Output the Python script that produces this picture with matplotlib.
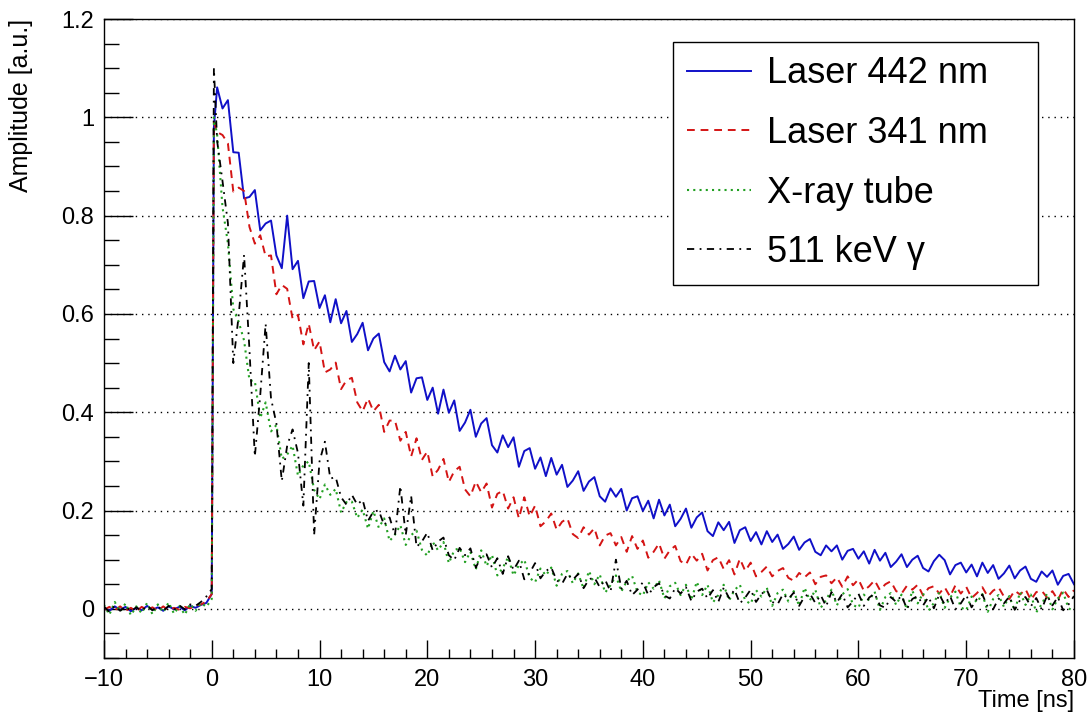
import numpy as np
import matplotlib
matplotlib.use('Agg')
import matplotlib.pyplot as plt
from matplotlib.ticker import MultipleLocator, FuncFormatter

plt.rcParams['font.family'] = ['Liberation Sans', 'DejaVu Sans']

# Eixo de tempo (ns): linha de base, subida em t=0, depois passo de 0.5 ns
t_ns = np.concatenate([np.arange(-10, 0, 0.5), [0.0, 0.2], np.arange(0.5, 80.01, 0.5)])

# Amplitudes (a.u.), mesma grade de tempo
laser_442 = [
    0.003, -0.004, 0.005, -0.002, 0.004, -0.005, 0.002, -0.003, 0.006, -0.002,
    0.003, -0.004, 0.005, -0.001, 0.004, -0.003, 0.006, 0.002, 0.008, 0.012,
    0.03, 0.98,
    1.061, 1.018, 1.035, 0.929, 0.928, 0.835, 0.838, 0.852, 0.77, 0.784,
    0.79, 0.719, 0.693, 0.80, 0.691, 0.708, 0.632, 0.666, 0.667, 0.612,
    0.638, 0.583, 0.63, 0.581, 0.606, 0.543, 0.559, 0.582, 0.526, 0.55,
    0.56, 0.502, 0.483, 0.515, 0.487, 0.504, 0.44, 0.469, 0.471, 0.425,
    0.45, 0.397, 0.446, 0.399, 0.424, 0.362, 0.379, 0.405, 0.35, 0.377,
    0.388, 0.333, 0.318, 0.353, 0.329, 0.349, 0.289, 0.321, 0.327, 0.285,
    0.308, 0.27, 0.307, 0.273, 0.293, 0.248, 0.261, 0.28, 0.24, 0.259,
    0.268, 0.229, 0.218, 0.245, 0.228, 0.244, 0.20, 0.225, 0.229, 0.199,
    0.22, 0.184, 0.222, 0.19, 0.212, 0.168, 0.183, 0.204, 0.165, 0.186,
    0.196, 0.158, 0.148, 0.176, 0.16, 0.177, 0.134, 0.16, 0.166, 0.138,
    0.156, 0.131, 0.158, 0.136, 0.151, 0.122, 0.132, 0.147, 0.12, 0.135,
    0.142, 0.116, 0.109, 0.129, 0.117, 0.129, 0.10, 0.118, 0.122, 0.102,
    0.117, 0.092, 0.12, 0.098, 0.114, 0.085, 0.096, 0.111, 0.085, 0.10,
    0.108, 0.083, 0.076, 0.097, 0.11, 0.099, 0.07, 0.089, 0.094, 0.074,
    0.09, 0.066, 0.094, 0.073, 0.089, 0.061, 0.072, 0.088, 0.062, 0.078,
    0.086, 0.061, 0.055, 0.076, 0.065, 0.078, 0.049, 0.067, 0.071, 0.05,
]

laser_341 = [
    -0.002, 0.004, -0.003, 0.005, -0.004, 0.002, -0.005, 0.004, -0.002, 0.003,
    -0.004, 0.005, -0.003, 0.002, -0.002, 0.004, 0.001, 0.006, 0.009, 0.015,
    0.03, 0.99,
    0.97, 0.964, 0.947, 0.849, 0.857, 0.85, 0.777, 0.743, 0.76, 0.717,
    0.719, 0.64, 0.659, 0.651, 0.59, 0.598, 0.538, 0.58, 0.526, 0.544,
    0.481, 0.487, 0.501, 0.447, 0.465, 0.47, 0.42, 0.402, 0.428, 0.402,
    0.415, 0.36, 0.383, 0.383, 0.342, 0.36, 0.31, 0.347, 0.303, 0.32,
    0.269, 0.283, 0.305, 0.258, 0.28, 0.289, 0.243, 0.229, 0.259, 0.237,
    0.255, 0.206, 0.234, 0.24, 0.204, 0.227, 0.184, 0.227, 0.188, 0.21,
    0.168, 0.178, 0.194, 0.161, 0.177, 0.184, 0.152, 0.144, 0.166, 0.151,
    0.164, 0.129, 0.149, 0.154, 0.129, 0.146, 0.116, 0.148, 0.122, 0.139,
    0.104, 0.116, 0.133, 0.102, 0.119, 0.128, 0.097, 0.09, 0.112, 0.098,
    0.112, 0.078, 0.099, 0.105, 0.081, 0.099, 0.07, 0.102, 0.077, 0.094,
    0.066, 0.075, 0.086, 0.066, 0.077, 0.083, 0.063, 0.057, 0.073, 0.064,
    0.074, 0.05, 0.065, 0.068, 0.052, 0.064, 0.045, 0.066, 0.048, 0.06,
    0.037, 0.046, 0.058, 0.038, 0.05, 0.056, 0.036, 0.031, 0.047, 0.039,
    0.049, 0.027, 0.042, 0.046, 0.031, 0.044, 0.025, 0.048, 0.031, 0.045,
    0.022, 0.032, 0.044, 0.025, 0.037, 0.044, 0.025, 0.02, 0.037, 0.029,
    0.04, 0.018, 0.034, 0.037, 0.023, 0.036, 0.018, 0.04, 0.024, 0.038,
]

xray_tube = [
    0.008, -0.012, 0.014, -0.006, 0.011, -0.013, 0.005, -0.009, 0.012, -0.011,
    0.009, -0.007, 0.013, -0.01, 0.006, -0.012, 0.01, -0.004, 0.012, 0.004,
    0.02, 1.0,
    0.965, 0.817, 0.744, 0.61, 0.584, 0.546, 0.465, 0.463, 0.388, 0.42,
    0.361, 0.374, 0.305, 0.314, 0.332, 0.271, 0.292, 0.30, 0.242, 0.223,
    0.253, 0.232, 0.244, 0.196, 0.217, 0.218, 0.185, 0.202, 0.163, 0.199,
    0.165, 0.184, 0.138, 0.151, 0.17, 0.13, 0.15, 0.159, 0.12, 0.108,
    0.136, 0.119, 0.136, 0.093, 0.119, 0.124, 0.095, 0.116, 0.08, 0.119,
    0.087, 0.11, 0.068, 0.083, 0.105, 0.068, 0.089, 0.10, 0.063, 0.054,
    0.082, 0.068, 0.084, 0.047, 0.071, 0.077, 0.052, 0.072, 0.041, 0.077,
    0.05, 0.07, 0.033, 0.048, 0.068, 0.035, 0.056, 0.067, 0.034, 0.027,
    0.054, 0.041, 0.058, 0.021, 0.046, 0.053, 0.028, 0.049, 0.018, 0.055,
    0.028, 0.049, 0.013, 0.028, 0.049, 0.017, 0.038, 0.049, 0.017, 0.01,
    0.038, 0.025, 0.043, 0.006, 0.032, 0.039, 0.015, 0.036, 0.006, 0.043,
    0.017, 0.039, 0.002, 0.018, 0.039, 0.007, 0.029, 0.04, 0.008, 0.002,
    0.029, 0.017, 0.035, -0.002, 0.024, 0.032, 0.008, 0.029, -0.001, 0.037,
    0.011, 0.032, -0.004, 0.012, 0.034, 0.002, 0.023, 0.035, 0.003, -0.003,
    0.025, 0.013, 0.03, -0.006, 0.02, 0.028, 0.004, 0.026, -0.004, 0.034,
    0.008, 0.029, -0.007, 0.009, 0.031, -0.001, 0.021, 0.033, 0.001, -0.005,
]

gamma_511 = [
    0.004, -0.006, 0.006, -0.004, 0.005, -0.005, 0.003, -0.004, 0.006, -0.003,
    0.005, -0.004, 0.006, -0.002, 0.007, -0.001, 0.009, 0.006, 0.014, 0.025,
    0.04, 1.10,
    0.952, 0.87, 0.785, 0.50, 0.597, 0.72, 0.527, 0.31, 0.435, 0.58,
    0.428, 0.377, 0.26, 0.332, 0.365, 0.317, 0.21, 0.50, 0.15, 0.30,
    0.34, 0.265, 0.268, 0.227, 0.212, 0.232, 0.212, 0.222, 0.179, 0.198,
    0.20, 0.17, 0.186, 0.15, 0.25, 0.15, 0.23, 0.126, 0.137, 0.155,
    0.119, 0.137, 0.145, 0.109, 0.099, 0.124, 0.109, 0.123, 0.084, 0.106,
    0.111, 0.084, 0.103, 0.071, 0.107, 0.079, 0.098, 0.06, 0.073, 0.093,
    0.062, 0.077, 0.084, 0.058, 0.051, 0.071, 0.059, 0.071, 0.042, 0.06,
    0.064, 0.044, 0.059, 0.035, 0.10, 0.041, 0.057, 0.028, 0.039, 0.054,
    0.028, 0.044, 0.052, 0.027, 0.021, 0.042, 0.031, 0.044, 0.016, 0.035,
    0.041, 0.021, 0.038, 0.014, 0.043, 0.022, 0.039, 0.011, 0.023, 0.039,
    0.014, 0.03, 0.039, 0.014, 0.009, 0.03, 0.02, 0.033, 0.006, 0.025,
    0.031, 0.012, 0.028, 0.005, 0.034, 0.013, 0.03, 0.003, 0.015, 0.031,
    0.006, 0.023, 0.031, 0.007, 0.002, 0.024, 0.014, 0.027, 0.0, 0.02,
    0.026, 0.007, 0.024, 0.001, 0.029, 0.009, 0.026, -0.001, 0.011, 0.028,
    0.003, 0.02, 0.029, 0.004, -0.001, 0.021, 0.011, 0.025, -0.002, 0.018,
    0.024, 0.005, 0.022, -0.001, 0.027, 0.007, 0.024, -0.003, 0.009, 0.026,
]

labels = ['Laser 442 nm', 'Laser 341 nm', 'X-ray tube', '511 keV γ']


fig = plt.figure(figsize=(10.92, 7.18), dpi=100)
ax = fig.add_axes([0.0952, 0.0836, 0.8883, 0.8899])

ax.plot(t_ns, laser_442, color='#1010c8', lw=1.4, label=labels[0])
ax.plot(t_ns, laser_341, color='#d41414', lw=1.4, ls=(0, (4, 3)), label=labels[1])
ax.plot(t_ns, xray_tube, color='#22a022', lw=1.5, ls=(0, (1, 2)), label=labels[2])
ax.plot(t_ns, gamma_511, color='black', lw=1.3, ls=(0, (4, 3, 1, 3)), label=labels[3])

ax.set_xlim(-10, 80)
ax.set_ylim(-0.1, 1.2)

# eixos estilo ROOT
ax.xaxis.set_major_locator(MultipleLocator(10))
ax.xaxis.set_minor_locator(MultipleLocator(2))
ax.yaxis.set_major_locator(MultipleLocator(0.2))
ax.yaxis.set_minor_locator(MultipleLocator(0.05))
ax.yaxis.set_major_formatter(FuncFormatter(lambda v, p: '0' if abs(v) < 1e-9 else f'{v:g}'))

ax.tick_params(which='both', direction='in', top=False, right=False, labelsize=17, color='black')
ax.tick_params(axis='y', which='major', length=21, width=1, pad=7)
ax.tick_params(axis='y', which='minor', length=10.8, width=1)
ax.tick_params(axis='x', which='major', length=13, width=1, pad=8)
ax.tick_params(axis='x', which='minor', length=6.5, width=1)

for s in ax.spines.values():
    s.set_linewidth(1.0)
    s.set_color('black')

ax.set_axisbelow(True)
ax.yaxis.grid(True, which='major', color='black', lw=1.0, ls=(0, (1, 3.5)))

ax.set_ylabel('Amplitude [a.u.]', fontsize=18, loc='top')
ax.yaxis.set_label_coords(-0.073, 1.0)
ax.set_xlabel('Time [ns]', fontsize=17, loc='right')
ax.xaxis.set_label_coords(1.0, -0.050)

leg = ax.legend(loc='upper left',
                bbox_to_anchor=(673 / 1092, 1 - 282 / 718, (1038 - 673) / 1092, 240 / 718),
                bbox_transform=fig.transFigure, mode='expand',
                fontsize=26, frameon=True, fancybox=False, edgecolor='black',
                framealpha=1, borderpad=0.4, labelspacing=0.68,
                handlelength=1.75, handletextpad=0.45, borderaxespad=0)
leg.get_frame().set_linewidth(1.0)

fig.savefig('out.png', dpi=100)
